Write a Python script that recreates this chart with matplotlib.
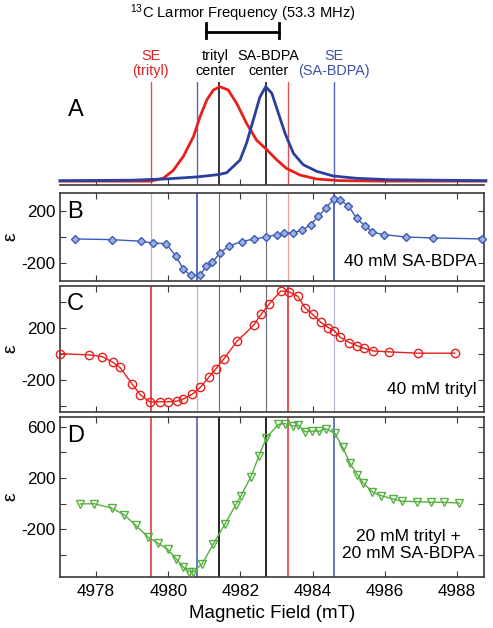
import matplotlib
matplotlib.use("Agg")
import matplotlib.pyplot as plt
from matplotlib.transforms import blended_transform_factory

plt.rcParams['font.family'] = ['Liberation Sans', 'DejaVu Sans']
plt.rcParams['mathtext.fontset'] = 'custom'
plt.rcParams['mathtext.rm'] = 'Liberation Sans'
plt.rcParams['mathtext.it'] = 'Liberation Sans'

# ---------------- data ----------------
# Panel A: EPR line shapes (normalised intensity)
trityl_field = [4977.0, 4979.5, 4979.86, 4980.14, 4980.42, 4980.70, 4980.88, 4981.07,
                4981.25, 4981.43, 4981.66, 4981.90, 4982.17, 4982.45, 4982.73, 4983.01,
                4983.28, 4983.65, 4984.11, 4984.76, 4986.0, 4988.8]
trityl_int = [-0.005, -0.005, 0.025, 0.11, 0.26, 0.47, 0.68, 0.86,
              0.965, 1.0, 0.965, 0.82, 0.61, 0.43, 0.33, 0.22,
              0.13, 0.06, 0.018, 0.0, -0.005, -0.005]
bdpa_field = [4977.0, 4979.0, 4980.0, 4980.8, 4981.4, 4981.62, 4981.99, 4982.17, 4982.36,
              4982.54, 4982.70, 4982.87, 4983.05, 4983.24, 4983.47, 4983.74, 4984.11,
              4984.57, 4985.22, 4986.14, 4988.8]
bdpa_int = [0.0, 0.005, 0.02, 0.04, 0.065, 0.085, 0.22, 0.40, 0.65,
            0.89, 1.0, 0.93, 0.72, 0.50, 0.29, 0.17, 0.10,
            0.05, 0.025, 0.01, 0.0]

# Panel B: 40 mM SA-BDPA
b_field = [4977.42, 4978.43, 4979.25, 4979.59, 4979.94, 4980.21, 4980.42, 4980.62, 4980.88,
           4981.05, 4981.22, 4981.43, 4981.68, 4982.03, 4982.37, 4982.70, 4983.02, 4983.22,
           4983.45, 4983.71, 4983.95, 4984.16, 4984.37, 4984.59, 4984.76, 4984.99, 4985.22,
           4985.45, 4985.66, 4985.98, 4986.59, 4987.33, 4988.70]
b_eps = [-17, -22, -35, -50, -53, -149, -252, -299, -299,
         -229, -198, -128, -71, -38, -17, -2, 17, 27,
         32, 50, 94, 159, 223, 293, 283, 241, 143,
         86, 35, 17, -2, -9, -17]

# Panel C: 40 mM trityl
c_field = [4977.00, 4977.81, 4978.17, 4978.46, 4978.66, 4978.99, 4979.22, 4979.50, 4979.77,
           4979.99, 4980.24, 4980.40, 4980.67, 4980.89, 4981.12, 4981.32, 4981.54, 4981.91,
           4982.37, 4982.57, 4982.80, 4983.12, 4983.35, 4983.59, 4983.79, 4984.00, 4984.23,
           4984.44, 4984.60, 4984.76, 4985.02, 4985.22, 4985.42, 4985.68, 4986.11, 4986.93,
           4987.94]
c_eps = [0, -9, -22, -65, -105, -230, -314, -372, -369,
         -369, -365, -350, -311, -258, -182, -116, -40, 97,
         220, 302, 383, 482, 475, 441, 353, 302, 240,
         200, 177, 127, 86, 63, 42, 21, 14, 4,
         4]

# Panel D: 20 mM trityl + 20 mM SA-BDPA
d_field = [4977.56, 4977.94, 4978.43, 4978.78, 4979.10, 4979.45, 4979.71, 4979.98, 4980.22,
           4980.42, 4980.58, 4980.68, 4980.94, 4981.25, 4981.57, 4981.87, 4982.01, 4982.29,
           4982.51, 4982.72, 4983.05, 4983.24, 4983.45, 4983.60, 4983.79, 4983.99, 4984.19,
           4984.37, 4984.62, 4984.83, 4985.04, 4985.24, 4985.40, 4985.66, 4985.89, 4986.22,
           4986.47, 4986.88, 4987.28, 4987.64, 4988.06]
d_eps = [-2, 0, -34, -86, -169, -262, -307, -354, -430,
         -495, -528, -534, -469, -313, -159, -10, 58, 209,
         370, 513, 617, 623, 605, 612, 560, 565, 565,
         583, 547, 441, 313, 227, 162, 91, 63, 37,
         19, 16, 11, 11, 5]

# reference field positions
se_trityl = [4979.52, 4983.33]
se_bdpa = [4980.80, 4984.59]
trityl_center = 4981.42
bdpa_center = 4982.70
larmor_bar = [4981.05, 4983.08]

xticks = [4978, 4980, 4982, 4984, 4986, 4988]

# ---------------- figure ----------------
W, H = 493, 628
fig = plt.figure(figsize=(W / 100, H / 100), dpi=100)

def fr(top, bot):
    return [60 / W, 1 - bot / H, 424 / W, (bot - top) / H]

def fy(px):
    return 1 - px / H

axA = fig.add_axes(fr(81.7, 185))
axB = fig.add_axes(fr(193.3, 281))
axC = fig.add_axes(fr(286, 412.3))
axD = fig.add_axes(fr(416.7, 577.3))

xlim = (4977.0, 4988.75)
spine_col = '#3a3a3a'

RED = '#e8201c'
BLUE_A = '#2a3f9e'
BLUE = '#3b5bb5'
GREEN = '#55b040'

# Panel A
axA.set_xlim(*xlim)
axA.set_ylim(-0.046, 1.053)
for s in ['top', 'left', 'right']:
    axA.spines[s].set_visible(False)
axA.spines['bottom'].set_color(spine_col)
axA.spines['bottom'].set_linewidth(1.2)
axA.set_yticks([])
axA.set_xticks(xticks)
axA.tick_params(axis='x', direction='in', length=4, labelbottom=False, color=spine_col)
for x in se_trityl:
    axA.axvline(x, color='#e05050', lw=1.0, zorder=1)
for x in se_bdpa:
    axA.axvline(x, color='#5566b5', lw=1.0, zorder=1)
for x in [trityl_center, bdpa_center]:
    axA.axvline(x, color='black', lw=1.1, zorder=1)
axA.plot(trityl_field, trityl_int, color=RED, lw=2.0, zorder=3, clip_on=False)
axA.plot(bdpa_field, bdpa_int, color=BLUE_A, lw=2.0, zorder=4, clip_on=False)
axA.text(0.018, 0.726, 'A', transform=axA.transAxes, fontsize=17, ha='left', va='center')

trA = blended_transform_factory(axA.transData, fig.transFigure)
axA.text(se_trityl[0], fy(63.4), 'SE\n(trityl)', transform=trA, color='#e02020',
         fontsize=10.4, ha='center', va='center', linespacing=1.15, clip_on=False)
axA.text(4981.30, fy(63.4), 'trityl\ncenter', transform=trA, color='black',
         fontsize=10.4, ha='center', va='center', linespacing=1.15, clip_on=False)
axA.text(4982.78, fy(63.4), 'SA-BDPA\ncenter', transform=trA, color='black',
         fontsize=10.4, ha='center', va='center', linespacing=1.15, clip_on=False)
axA.text(se_bdpa[1], fy(63.4), 'SE\n(SA-BDPA)', transform=trA, color='#4050a8',
         fontsize=10.4, ha='center', va='center', linespacing=1.15, clip_on=False)
# Larmor bar
axA.plot(larmor_bar, [fy(32.3)] * 2, transform=trA, color='black', lw=2, clip_on=False)
for x in larmor_bar:
    axA.plot([x, x], [fy(23.3), fy(37.7)], transform=trA, color='black', lw=2, clip_on=False)
fig.text(243 / W, fy(13), r'$^{13}$C Larmor Frequency (53.3 MHz)', ha='center', va='center',
         fontsize=10.6)

def style(ax, ylim, yticks, ylabels, letter, ly):
    ax.set_xlim(*xlim)
    ax.set_ylim(*ylim)
    ax.set_xticks(xticks)
    ax.set_yticks(yticks)
    ax.set_yticklabels(ylabels)
    ax.tick_params(direction='in', length=4, top=True, right=True, labelsize=12.3,
                   color=spine_col, pad=3)
    ax.tick_params(axis='x', labelbottom=False)
    for s in ax.spines.values():
        s.set_color(spine_col)
        s.set_linewidth(1.2)
    ax.text(0.017, ly, letter, transform=ax.transAxes, fontsize=17, ha='left', va='center')
    # y label (epsilon), placed at fixed pixel position left of the tick labels
    pos = ax.get_position()
    fig.text(10.5 / W, pos.y0 + pos.height / 2, 'ε', rotation=90, fontsize=14,
             ha='center', va='center')

def vlines(ax, red_c, blue_c, blk_c, red_lw, blue_lw, blk_lw):
    for x in se_trityl:
        ax.axvline(x, color=red_c, lw=red_lw, zorder=1)
    for x in se_bdpa:
        ax.axvline(x, color=blue_c, lw=blue_lw, zorder=1)
    for x in [trityl_center, bdpa_center]:
        ax.axvline(x, color=blk_c, lw=blk_lw, zorder=1)

# Panel B
style(axB, (-343, 337), [-200, 0, 200], ['-200', '', '200'], 'B', 0.79)
vlines(axB, '#f0a0a0', '#3a50b0', '#707070', 0.9, 1.2, 0.8)
axB.plot(b_field, b_eps, color=BLUE, lw=1.0, marker='D', ms=4.5, mfc='#9fb0e0',
         mec=BLUE, mew=1.0, zorder=3, clip_on=False)
axB.text(0.983, 0.228, '40 mM SA-BDPA', transform=axB.transAxes, fontsize=12.5,
         ha='right', va='center')

# Panel C
style(axC, (-450, 520), [-400, -200, 0, 200, 400], ['', '-200', '', '200', ''], 'C', 0.86)
vlines(axC, '#e03030', '#b0b8d8', '#6a6a7a', 1.2, 0.9, 0.8)
axC.plot(c_field, c_eps, color=RED, lw=1.0, marker='o', ms=6, mfc='none',
         mec=RED, mew=1.0, zorder=3, clip_on=False)
axC.text(0.983, 0.177, '40 mM trityl', transform=axC.transAxes, fontsize=12.5,
         ha='right', va='center')

# Panel D
style(axD, (-573, 677), [-400, -200, 0, 200, 400, 600],
      ['', '-200', '', '200', '', '600'], 'D', 0.878)
vlines(axD, '#e04040', '#5060b8', 'black', 1.2, 1.2, 1.2)
axD.plot(d_field, d_eps, color=GREEN, lw=1.0, marker='v', ms=6, mfc='none',
         mec=GREEN, mew=1.0, zorder=3, clip_on=False)
axD.text(0.821, 0.201, '20 mM trityl +\n20 mM SA-BDPA', transform=axD.transAxes,
         fontsize=12.5, ha='center', va='center', multialignment='center', linespacing=1.15)
axD.tick_params(axis='x', labelbottom=True, pad=5)
axD.set_xlabel('Magnetic Field (mT)', fontsize=13.5, labelpad=4)

fig.savefig('out.png', dpi=100)
